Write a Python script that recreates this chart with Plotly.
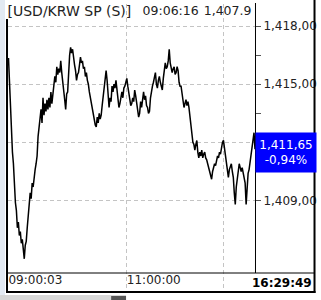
import plotly.graph_objects as go

# price per pixel column
prices = [
    1416.35, 1415.0, 1413.8, 1412.6, 1411.5, 1410.9, 1409.6, 1408.9, 1408.5, 1407.6,
    1407.9, 1407.2, 1407.4, 1406.8, 1407.0, 1406.5, 1406.0, 1406.7, 1406.9, 1407.6,
    1408.1, 1408.7, 1409.4, 1409.1, 1409.9, 1409.7, 1410.3, 1410.6, 1410.9, 1411.3,
    1412.3, 1412.7, 1413.1, 1413.7, 1413.0, 1414.3, 1413.4, 1414.0, 1413.6, 1414.2,
    1413.7, 1414.3, 1413.8, 1414.6, 1414.0, 1414.4, 1414.9, 1415.4, 1415.1, 1415.9,
    1415.5, 1415.8, 1415.6, 1416.2, 1415.6, 1415.0, 1414.6, 1414.2, 1413.7, 1414.5,
    1414.6, 1415.9, 1416.5, 1416.9, 1416.6, 1416.8, 1416.3, 1416.0, 1415.7, 1415.2,
    1415.5, 1415.6, 1416.0, 1416.4, 1416.1, 1416.2, 1415.8, 1415.9, 1415.4, 1415.6,
    1415.2, 1415.0, 1414.6, 1414.3, 1413.9, 1413.6, 1413.4, 1413.1, 1412.9, 1412.8,
    1413.3, 1413.0, 1413.5, 1413.2, 1413.4, 1413.9, 1414.3, 1414.9, 1415.4, 1415.7,
    1415.2, 1414.5, 1413.8, 1414.3, 1414.1, 1414.9, 1414.6, 1415.0, 1414.8, 1415.2,
    1414.7, 1414.3, 1413.8, 1414.0, 1414.4, 1414.6, 1414.3, 1414.8, 1414.9, 1415.1,
    1415.3, 1414.9, 1414.5, 1414.2, 1413.9, 1414.0, 1414.3, 1414.1, 1414.7, 1414.4,
    1414.0, 1413.6, 1413.3, 1413.5, 1414.1, 1413.8, 1414.4, 1414.6, 1414.2, 1414.4,
    1413.9, 1413.8, 1413.5, 1413.6, 1414.3, 1414.7, 1414.9, 1415.1, 1415.4, 1415.6,
    1415.0, 1414.8, 1415.2, 1415.4, 1415.1, 1414.8, 1414.7, 1415.3, 1415.7, 1416.1,
    1415.8, 1415.9, 1416.2, 1416.8, 1416.1, 1415.8, 1415.6, 1415.8, 1415.9, 1415.5,
    1415.6, 1415.9, 1415.7, 1415.1, 1414.9, 1414.9, 1414.6, 1414.3, 1413.8, 1414.0,
    1414.2, 1413.9, 1414.1, 1413.8, 1413.3, 1412.7, 1412.3, 1412.0, 1411.9, 1411.6,
    1411.9, 1412.1, 1411.5, 1411.2, 1411.5, 1411.3, 1411.6, 1411.2, 1411.4, 1411.5,
    1411.2, 1411.1, 1410.9, 1410.7, 1410.5, 1410.4, 1410.1, 1410.5, 1410.7, 1410.9,
    1410.8, 1411.1, 1411.3, 1411.2, 1411.5, 1411.4, 1411.8, 1412.0, 1412.1, 1411.7,
    1411.3, 1410.9, 1410.5, 1410.2, 1410.6, 1410.8, 1410.9, 1410.5, 1410.2, 1409.4,
    1408.8, 1409.7, 1410.2, 1410.6, 1410.9, 1410.7, 1410.5, 1410.7, 1410.4, 1410.3,
    1409.9, 1408.8, 1409.8, 1410.4, 1410.6, 1411.0, 1411.5, 1412.0, 1412.3, 1412.5,
    1411.65,
]
x_idx = list(range(len(prices)))

x_tickvals = [0, 120, 218]
x_ticktext = ["09:00:03", "11:00:00", ""]
y_tickvals = [1409, 1412, 1415, 1418]
y_ticktext = ["1,409,00", "", "1,415,00", "1,418,00"]  # 1,412 label is hidden by the price box
y_minor = [1410.5, 1413.5, 1416.5]

title_parts = ["[USD/KRW SP (S)]", "09:06:16", "1,407.9"]
title_x = [-1, 136, 198]
title_sizes = [14, 12.5, 12.5]

last_price = "1,411,65"
last_change = "-0,94%"
last_time = "16:29:49"

L, R, T, B = 8, 257, 4, 292
W, H = 321, 300


def px(p):
    return (p - L) / (R - L)


def py(q):
    return (B - q) / (B - T)


fig = go.Figure()
fig.add_trace(go.Scatter(
    x=x_idx, y=prices, mode="lines",
    line=dict(color="black", width=1.5), hoverinfo="skip", showlegend=False,
))
fig.add_trace(go.Scatter(
    x=title_x, y=[1418.72] * 3, mode="text", text=title_parts,
    textposition="middle right", cliponaxis=True,
    textfont=dict(family="DejaVu Sans", size=title_sizes, color="#222"),
    hoverinfo="skip", showlegend=False,
))

shapes = [
    dict(type="rect", xref="paper", yref="paper", x0=px(0), x1=px(5), y0=py(300), y1=py(0),
         fillcolor="#e2e9f2", line_width=0, layer="below"),
    dict(type="rect", xref="paper", yref="paper", x0=px(0), x1=px(127), y0=py(300), y1=py(295),
         fillcolor="#d6d6d6", line_width=0, layer="below"),
    dict(type="rect", xref="paper", yref="paper", x0=px(112), x1=px(127), y0=py(300), y1=py(296),
         fillcolor="#555555", line_width=0, layer="below"),
    dict(type="line", xref="paper", yref="paper", x0=px(8), x1=px(317), y0=py(273), y1=py(273),
         line=dict(color="black", width=1)),
    dict(type="line", xref="paper", yref="paper", x0=px(257.5), x1=px(257.5), y0=py(273), y1=py(3),
         line=dict(color="black", width=1)),
    dict(type="line", xref="paper", yref="paper", x0=px(7), x1=px(7), y0=py(293), y1=py(19),
         line=dict(color="black", width=2)),
    dict(type="line", xref="paper", yref="paper", x0=px(6), x1=px(318), y0=py(292), y1=py(292),
         line=dict(color="black", width=2)),
    dict(type="line", xref="paper", yref="paper", x0=px(317), x1=px(317), y0=py(293), y1=py(0),
         line=dict(color="black", width=2)),
]

annotations = [
    dict(xref="paper", yref="y", x=1.0, y=1411.5, xanchor="left", yanchor="middle",
         text=last_price + "<br>" + last_change, showarrow=False, align="center",
         bgcolor="#0000ff", width=58, height=37, borderpad=1,
         font=dict(family="DejaVu Sans", size=12, color="white")),
    dict(xref="paper", yref="paper", x=px(316), y=py(283), xanchor="right", yanchor="middle",
         text="<b>" + last_time + "</b>", showarrow=False,
         font=dict(family="DejaVu Sans", size=12, color="black")),
]

fig.update_layout(
    width=W, height=H,
    margin=dict(l=L, r=W - R, t=T, b=H - B, pad=0),
    paper_bgcolor="white", plot_bgcolor="white",
    shapes=shapes, annotations=annotations,
    xaxis=dict(
        range=[-0.5, len(prices) - 1], tickvals=x_tickvals, ticktext=x_ticktext,
        showgrid=True, gridcolor="#c4c4c4", griddash="4px,3px", gridwidth=1,
        zeroline=False, showline=False, ticks="",
        ticklabelposition="inside right",
        tickfont=dict(family="DejaVu Sans", size=12, color="#222"),
    ),
    yaxis=dict(
        side="right", range=[1404.289, 1419.134], tickvals=y_tickvals, ticktext=y_ticktext,
        showgrid=True, gridcolor="#c4c4c4", griddash="4px,3px", gridwidth=1,
        zeroline=False, showline=False, ticks="outside", ticklen=5, tickcolor="#555",
        minor=dict(tickvals=y_minor, ticks="outside", ticklen=5, tickcolor="#555", showgrid=False),
        tickfont=dict(family="DejaVu Sans", size=12, color="#222"),
    ),
)

fig.write_html("out.html")
